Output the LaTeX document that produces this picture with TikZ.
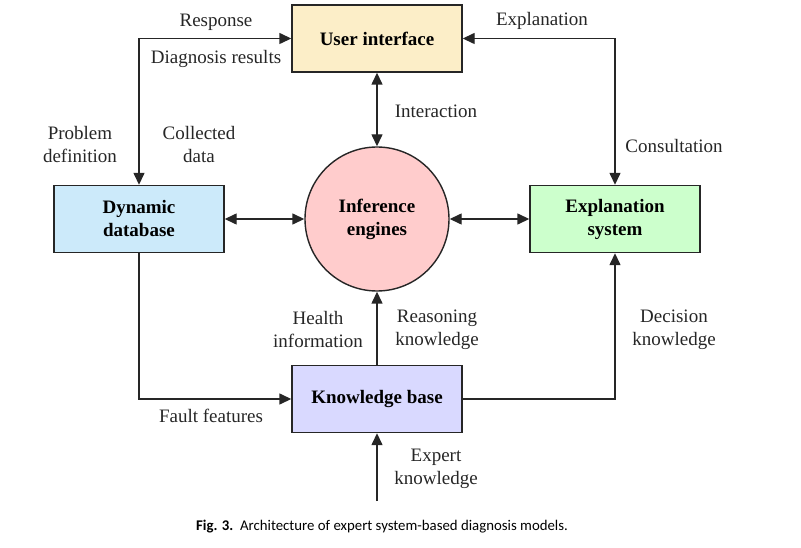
\documentclass[tikz,border=0pt]{standalone}
\usepackage{fontspec}
\setmainfont{Liberation Serif}
\newfontfamily\capfont{Carlito}
\usetikzlibrary{arrows.meta}

\definecolor{uifill}{RGB}{252,238,200}
\definecolor{dbfill}{RGB}{204,234,250}
\definecolor{esfill}{RGB}{204,255,204}
\definecolor{iefill}{RGB}{255,204,204}
\definecolor{kbfill}{RGB}{217,217,255}

\begin{document}
\begin{tikzpicture}[x=1pt,y=-1pt,
  box/.style={draw=black!85,line width=1.4pt,minimum width=170pt,minimum height=67pt,
    align=center,font=\fontsize{19}{23}\selectfont\bfseries},
  lbl/.style={align=center,text=black!85,font=\fontsize{19}{23}\selectfont},
  link/.style={line width=1.4pt,draw=black!85,{Triangle[length=12pt,width=11pt]}-{Triangle[length=12pt,width=11pt]}},
  feed/.style={line width=1.4pt,draw=black!85,-{Triangle[length=12pt,width=11pt]}}]
%\draw[help lines,step=50] (0,0) grid (801,548);
\useasboundingbox (0,0) rectangle (801,548);

% blocks
\node[box,fill=uifill] (ui) at (377,38.5) {User interface};
\node[box,fill=dbfill] (db) at (139,219) {Dynamic\\database};
\node[box,fill=esfill] (es) at (615,219) {Explanation\\system};
\node[box,fill=iefill,circle,minimum size=144pt,inner sep=0pt] (ie) at (377,219) {Inference\\engines};
\node[box,fill=kbfill] (kb) at (377,399) {Knowledge base};
\coordinate (ek) at (377,501);

% connectors
\draw[link] (ui.west) -| (db.north);
\draw[link] (ui.east) -| (es.north);
\draw[link] (ui) -- (ie);
\draw[link] (db) -- (ie);
\draw[link] (ie) -- (es);
\draw[feed] (kb) -- (ie);
\draw[feed] (db.south) |- (kb.west);
\draw[feed] (kb.east) -| (es.south);
\draw[feed] (ek) -- (kb.south);

% labels
\node[lbl] (l1) at (216,22) {Response};
\node[lbl] (l2) at (216,59) {Diagnosis results};
\node[lbl] (l3) at (542,21) {Explanation};
\node[lbl] (l4) at (436,111) {Interaction};
\node[lbl] (l5) at (80,145) {Problem\\definition};
\node[lbl] (l6) at (199,145) {Collected\\data};
\node[lbl] (l7) at (674,146) {Consultation};
\node[lbl] (l8) at (318,330) {Health\\information};
\node[lbl] (l9) at (437,330) {Reasoning\\knowledge};
\node[lbl] (l10) at (674,330) {Decision\\knowledge};
\node[lbl] (l11) at (211,416) {Fault features};
\node[lbl] (l12) at (436,469) {Expert\\knowledge};

\node[font=\capfont\fontsize{14.8}{17}\selectfont] (cap) at (382,527)
  {\textbf{Fig. 3.}\ \ Architecture of expert system-based diagnosis models.};
\end{tikzpicture}
\end{document}
